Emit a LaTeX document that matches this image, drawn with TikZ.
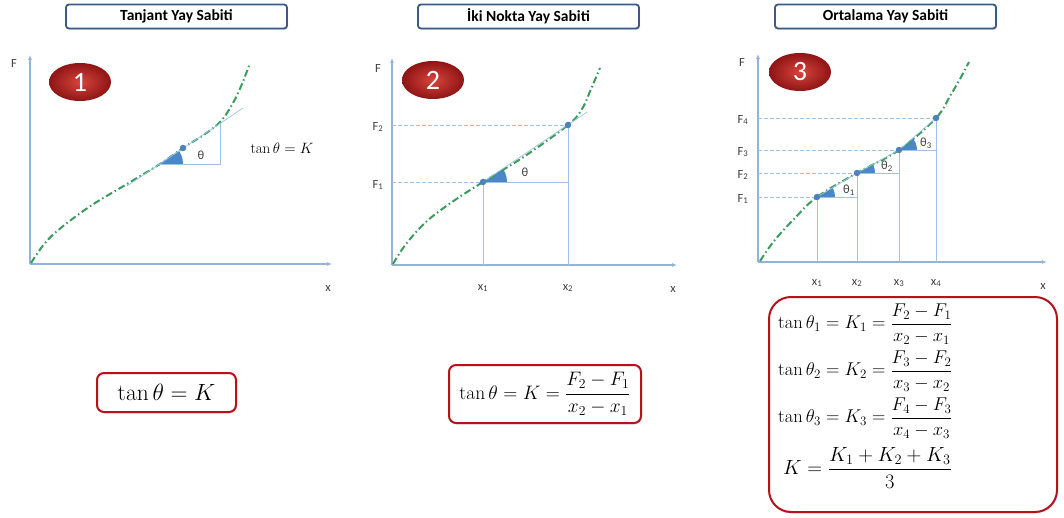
\RequirePackage{fix-cm}
\documentclass[tikz,border=0pt]{standalone}
\usepackage{amsmath}
\usepackage{fontspec}
\newfontfamily\calib{Carlito}
\usetikzlibrary{shapes.geometric,arrows.meta,shadows}
\definecolor{axisblue}{HTML}{95B3D7}
\definecolor{guideblue}{HTML}{9DC3E6}
\definecolor{curvegreen}{HTML}{3A9B5C}
\definecolor{dotblue}{HTML}{4F81BD}
\definecolor{wedgeblue}{HTML}{4A86C8}
\definecolor{titleblue}{HTML}{3B5A87}
\definecolor{boxred}{HTML}{B5121B}
\definecolor{ovalin}{HTML}{D8443C}
\definecolor{ovalout}{HTML}{8E1515}
\definecolor{labgray}{HTML}{404040}
\tikzset{
  axis/.style={draw=axisblue, line width=1.3pt, -{Latex[length=5pt,width=4pt]}},
  curve/.style={draw=curvegreen, line width=2pt, dash pattern=on 7pt off 3pt on 1.5pt off 3pt},
  guide/.style={draw=guideblue, line width=0.7pt},
  proj/.style={draw=guideblue, line width=0.7pt, dash pattern=on 4pt off 2pt},
  titlebox/.style={draw=titleblue, line width=1.8pt, rounded corners=3pt, fill=white,
    drop shadow={opacity=0.25, shadow xshift=1pt, shadow yshift=-1.5pt},
    minimum width=221pt, minimum height=24pt, inner sep=0pt,
    font=\calib\bfseries\fontsize{15.5}{17}\selectfont},
  badge/.style={ellipse, minimum width=62pt, minimum height=38pt, inner sep=0pt,
    shading=radial, inner color=ovalin, outer color=ovalout, text=white,
    font=\calib\fontsize{28}{30}\selectfont},
  fbox/.style={draw=boxred, line width=2pt, rounded corners=7pt, inner sep=0pt, fill=white,
    drop shadow={opacity=0.2, shadow xshift=1pt, shadow yshift=-1.5pt}},
  dot/.style={circle, fill=dotblue, inner sep=0pt, minimum size=6.5pt},
  lab/.style={font=\calib\fontsize{12.5}{14}\selectfont, text=labgray, inner sep=0pt},
  wedge/.style={fill=wedgeblue},
}
\begin{document}
\begin{tikzpicture}[x=1pt,y=-1pt]
\useasboundingbox[fill=white] (0,0) rectangle (1064,518);

%%%%%%%%%%%%%%%% Panel 1
\node[titlebox] (t1) at (176.5,16.5) {Tanjant Yay Sabiti};
\coordinate (o1) at (30,264);
\coordinate (ye1) at (30,55);
\coordinate (xe1) at (332,264);
\draw[axis] (o1) -- (ye1);
\draw[axis] (o1) -- (xe1);
\node[lab] (F1l) at (14,63) {F};
\node[lab] (x1l) at (328,289) {x};
\node[badge] (b1) at (80,82) {1};
\draw[curve] plot[smooth, tension=0.6] coordinates {(31,263) (45,243) (62,227) (92,205) (127,184) (160,164) (183,148) (205,134) (221,121) (233,103) (242,84) (250,63)};
\coordinate (ta) at (127,186);
\coordinate (tb) at (243,108);
\coordinate (v1) at (159,164);
\coordinate (h1) at (220,164);
\coordinate (c1) at (220,123.5);
\begin{scope}
  \clip (v1) -- (h1) -- (c1) -- cycle;
  \fill[wedge] (v1) circle (24);
\end{scope}
\draw[guide] (ta) -- (tb);
\draw[guide] (v1) -- (h1) -- (c1);
\node[dot] (d1) at (183,148) {};
\node[lab] (th1) at (201,155) {θ};
\node[inner sep=0pt, font=\fontsize{15}{17}\selectfont] (tk1) at (282,148) {$\tan\theta = K$};
\node[fbox, minimum width=139pt, minimum height=39pt] (fb1) at (166.5,392.5)
  {\fontsize{23.5}{27}\selectfont$\tan\theta = K$};

%%%%%%%%%%%%%%%% Panel 2
\node[titlebox] (t2) at (528.5,16.5) {İki Nokta Yay Sabiti};
\coordinate (o2) at (392,265);
\coordinate (ye2) at (392,58);
\coordinate (xe2) at (677,265);
\draw[axis] (o2) -- (ye2);
\draw[axis] (o2) -- (xe2);
\node[lab] (F2l) at (378,68) {F};
\node[lab] (x2l) at (673,290) {x};
\node[badge] (b2) at (433,80) {2};
\coordinate (p21) at (483,182);
\coordinate (p22) at (568,125);
\coordinate (a2F1) at (392,182);
\coordinate (a2F2) at (392,125);
\coordinate (a2x1) at (483,265);
\coordinate (a2x2) at (568,265);
\coordinate (q2) at (568,182);
\coordinate (ce2) at (587,112);
\draw[proj] (a2F2) -- (p22);
\draw[proj] (a2F1) -- (p21);
\draw[guide] (p21) -- (q2);
\draw[guide] (p22) -- (a2x2);
\draw[guide] (p21) -- (a2x1);
\begin{scope}
  \clip (p21) -- (q2) -- (p22) -- cycle;
  \fill[wedge] (p21) circle (24);
\end{scope}
\draw[curve] plot[smooth, tension=0.6] coordinates {(393,264) (406,244) (427,221) (455,200) (483,182) (525,156) (568,125) (582,109) (591,89) (600,68)};
\draw[guide] (p21) -- (ce2);
\node[dot] (d21) at (p21) {};
\node[dot] (d22) at (p22) {};
\node[lab] (F2a) at (378,127) {F\textsubscript{2}};
\node[lab] (F2b) at (378,185) {F\textsubscript{1}};
\node[lab] (x2a) at (483,288) {x\textsubscript{1}};
\node[lab] (x2b) at (568,288) {x\textsubscript{2}};
\node[lab] (th2) at (525,172) {θ};
\node[fbox, minimum width=192pt, minimum height=58pt] (fb2) at (545,394)
  {\fontsize{19.5}{22}\selectfont$\tan\theta = K = \dfrac{F_2-F_1}{x_2-x_1}$};

%%%%%%%%%%%%%%%% Panel 3
\node[titlebox] (t3) at (885.5,16.5) {Ortalama Yay Sabiti};
\coordinate (o3) at (758,262);
\coordinate (ye3) at (758,54);
\coordinate (xe3) at (1047,262);
\draw[axis] (o3) -- (ye3);
\draw[axis] (o3) -- (xe3);
\node[lab] (F3l) at (742,62) {F};
\node[lab] (x3l) at (1043,287) {x};
\node[badge] (b3) at (800,72) {3};
\coordinate (p31) at (817,197);
\coordinate (p32) at (857,173);
\coordinate (p33) at (899,150);
\coordinate (p34) at (936,118);
\coordinate (a3F1) at (758,197);
\coordinate (a3F2) at (758,173);
\coordinate (a3F3) at (758,150);
\coordinate (a3F4) at (758,118);
\coordinate (a3x1) at (817,262);
\coordinate (a3x2) at (857,262);
\coordinate (a3x3) at (899,262);
\coordinate (a3x4) at (936,262);
\coordinate (q31) at (857,197);
\coordinate (q32) at (899,173);
\coordinate (q33) at (936,150);
\draw[proj] (a3F1) -- (p31);
\draw[proj] (a3F2) -- (p32);
\draw[proj] (a3F3) -- (p33);
\draw[proj] (a3F4) -- (p34);
\draw[guide] (p31) -- (q31);
\draw[guide] (p32) -- (q32);
\draw[guide] (p33) -- (q33);
\draw[guide] (p31) -- (a3x1);
\draw[guide] (p32) -- (a3x2);
\draw[guide] (p33) -- (a3x3);
\draw[guide] (p34) -- (a3x4);
\begin{scope}
  \clip (p31) -- (q31) -- (p32) -- cycle;
  \fill[wedge] (p31) circle (18);
\end{scope}
\begin{scope}
  \clip (p32) -- (q32) -- (p33) -- cycle;
  \fill[wedge] (p32) circle (18);
\end{scope}
\begin{scope}
  \clip (p33) -- (q33) -- (p34) -- cycle;
  \fill[wedge] (p33) circle (18);
\end{scope}
\draw[curve] plot[smooth, tension=0.6] coordinates {(760,261) (774,241) (794,219) (817,197) (857,173) (899,150) (936,118) (950,96) (960,79) (969,62)};
\draw[guide] (p31) -- (p32) -- (p33) -- (p34);
\node[dot] (d31) at (p31) {};
\node[dot] (d32) at (p32) {};
\node[dot] (d33) at (p33) {};
\node[dot] (d34) at (p34) {};
\node[lab] (F3d) at (743,120) {F\textsubscript{4}};
\node[lab] (F3c) at (743,152) {F\textsubscript{3}};
\node[lab] (F3b) at (743,175) {F\textsubscript{2}};
\node[lab] (F3a) at (743,199) {F\textsubscript{1}};
\node[lab] (x3a) at (817,283) {x\textsubscript{1}};
\node[lab] (x3b) at (857,283) {x\textsubscript{2}};
\node[lab] (x3c) at (899,283) {x\textsubscript{3}};
\node[lab] (x3d) at (936,283) {x\textsubscript{4}};
\node[lab] (th31) at (849,190) {θ\textsubscript{1}};
\node[lab] (th32) at (887,166) {θ\textsubscript{2}};
\node[lab] (th33) at (926,143) {θ\textsubscript{3}};
\node[fbox, rounded corners=22pt, minimum width=288pt, minimum height=215pt] (fb3) at (913,404.5) {};
\node[anchor=west, inner sep=0pt, font=\fontsize{18.5}{21}\selectfont] (e1) at (778,324)
  {$\tan\theta_1 = K_1 = \dfrac{F_2-F_1}{x_2-x_1}$};
\node[anchor=west, inner sep=0pt, font=\fontsize{18.5}{21}\selectfont] (e2) at (778,371)
  {$\tan\theta_2 = K_2 = \dfrac{F_3-F_2}{x_3-x_2}$};
\node[anchor=west, inner sep=0pt, font=\fontsize{18.5}{21}\selectfont] (e3) at (778,418)
  {$\tan\theta_3 = K_3 = \dfrac{F_4-F_3}{x_4-x_3}$};
\node[anchor=west, inner sep=0pt, font=\fontsize{20.5}{23}\selectfont] (e4) at (783,468)
  {$K = \dfrac{K_1+K_2+K_3}{3}$};
\end{tikzpicture}
\end{document}
